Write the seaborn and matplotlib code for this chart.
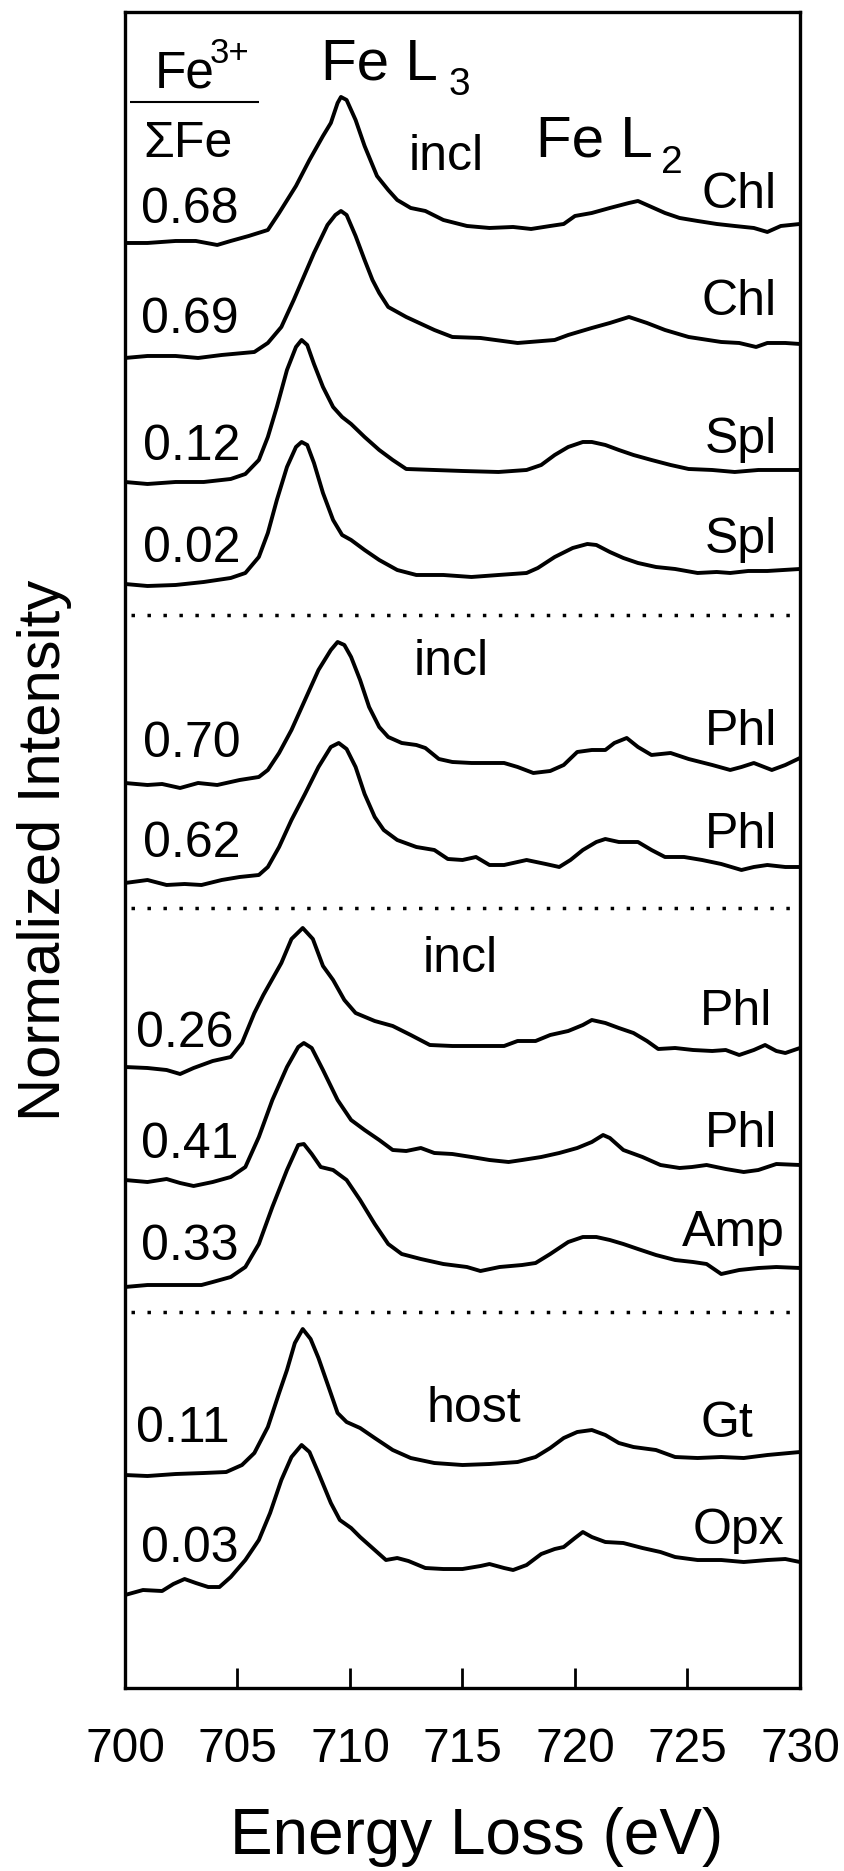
import numpy as np
import pandas as pd
import matplotlib
matplotlib.use('Agg')
import matplotlib.pyplot as plt
import seaborn as sns

# DATA ----------------------------------------------------------------------------
fe_ratio = ['0.68', '0.69', '0.12', '0.02', '0.70', '0.62', '0.26', '0.41', '0.33', '0.11', '0.03']
minerals = ['Chl', 'Chl', 'Spl', 'Spl', 'Phl', 'Phl', 'Phl', 'Phl', 'Amp', 'Gt', 'Opx']
# vertical offset of each spectrum (stacked plot, arbitrary units)
offsets = [14.45, 13.30, 12.06, 11.04, 9.05, 8.05, 6.21, 5.08, 4.01, 2.13, 0.93]
separators = [10.73, 7.80, 3.76]
group_labels = ['incl', 'incl', 'incl', 'host']
x_ticks = [700, 705, 710, 715, 720, 725, 730]

# Chl 0.68
e_chl1 = [700.0, 701.0, 702.25, 703.15, 704.1, 704.7, 705.5, 706.35, 706.85, 707.6, 708.2, 708.8,
          709.15, 709.45, 709.6, 709.85, 710.25, 710.65, 711.2, 711.7, 712.1, 712.7, 713.35, 714.15,
          715.2, 716.2, 717.25, 718.05, 718.9, 719.5, 720.0, 720.75, 721.55, 722.4, 722.8, 723.2,
          724.0, 724.65, 725.45, 726.3, 727.1, 727.95, 728.55, 729.15, 730.0]
i_chl1 = [0.00, 0.00, 0.02, 0.02, -0.02, 0.02, 0.07, 0.13, 0.30, 0.57, 0.83, 1.07,
          1.20, 1.40, 1.46, 1.43, 1.23, 0.97, 0.67, 0.53, 0.43, 0.35, 0.32, 0.23,
          0.17, 0.15, 0.16, 0.14, 0.17, 0.19, 0.27, 0.30, 0.35, 0.40, 0.42, 0.38,
          0.30, 0.25, 0.22, 0.19, 0.17, 0.15, 0.11, 0.17, 0.19]

# Chl 0.69
e_chl2 = [700.0, 701.0, 702.25, 703.25, 704.3, 705.75, 706.35, 706.95, 707.5, 708.4, 709.0, 709.35,
          709.6, 709.85, 710.25, 710.65, 711.0, 711.3, 711.7, 712.5, 713.75, 714.55, 715.8, 717.45,
          719.1, 719.7, 720.75, 721.55, 722.4, 723.2, 724.0, 725.05, 726.5, 727.3, 728.05, 728.55,
          729.35, 730.0]
i_chl2 = [0.00, 0.02, 0.02, 0.00, 0.03, 0.06, 0.15, 0.31, 0.58, 1.05, 1.33, 1.43,
          1.47, 1.43, 1.22, 0.98, 0.78, 0.65, 0.51, 0.41, 0.28, 0.21, 0.20, 0.15,
          0.18, 0.23, 0.30, 0.35, 0.41, 0.35, 0.28, 0.21, 0.16, 0.15, 0.11, 0.15,
          0.15, 0.14]

# Spl 0.12
e_spl1 = [700.0, 701.0, 702.25, 703.5, 704.7, 705.35, 705.95, 706.35, 706.75, 707.2, 707.6, 707.85,
          708.1, 708.4, 708.8, 709.25, 709.65, 710.05, 710.65, 711.3, 711.9, 712.5, 713.75, 715.0,
          716.6, 717.85, 718.5, 719.1, 719.7, 720.35, 720.75, 721.35, 721.95, 722.6, 723.4, 724.25,
          725.05, 726.1, 727.1, 728.15, 730.0]
i_spl1 = [0.00, -0.02, 0.00, 0.00, 0.03, 0.08, 0.22, 0.45, 0.75, 1.12, 1.35, 1.42,
          1.37, 1.18, 0.95, 0.75, 0.65, 0.58, 0.45, 0.32, 0.22, 0.13, 0.12, 0.11,
          0.10, 0.12, 0.17, 0.27, 0.35, 0.40, 0.40, 0.37, 0.32, 0.27, 0.22, 0.17,
          0.13, 0.12, 0.10, 0.12, 0.12]

# Spl 0.02
e_spl2 = [700.0, 701.0, 702.25, 703.5, 704.7, 705.35, 705.95, 706.35, 706.75, 707.2, 707.6, 707.85,
          708.1, 708.4, 708.8, 709.25, 709.65, 710.05, 710.65, 711.3, 712.1, 712.95, 714.15, 715.4,
          716.6, 717.85, 718.35, 719.1, 719.9, 720.55, 720.95, 721.55, 722.15, 722.8, 723.6, 724.45,
          725.45, 726.3, 726.9, 727.7, 728.55, 730.0]
i_spl2 = [0.00, -0.02, -0.01, 0.02, 0.06, 0.11, 0.27, 0.51, 0.84, 1.17, 1.37, 1.42,
          1.39, 1.21, 0.91, 0.64, 0.49, 0.44, 0.34, 0.24, 0.14, 0.09, 0.09, 0.07,
          0.09, 0.11, 0.16, 0.27, 0.36, 0.40, 0.39, 0.32, 0.26, 0.21, 0.17, 0.15,
          0.11, 0.12, 0.11, 0.13, 0.13, 0.15]

# Phl 0.70
e_phl1 = [700.0, 701.0, 701.65, 702.45, 703.25, 704.1, 705.1, 705.95, 706.35, 706.85, 707.4, 708.0,
          708.6, 709.15, 709.45, 709.75, 710.05, 710.45, 710.85, 711.3, 711.7, 712.3, 712.95, 713.35,
          713.95, 714.55, 715.4, 716.2, 716.85, 717.45, 718.15, 718.9, 719.5, 720.1, 720.75, 721.35,
          721.75, 722.3, 722.8, 723.4, 724.25, 725.05, 726.1, 726.9, 727.4, 727.95, 728.75, 729.35,
          730.0]
i_phl1 = [0.00, -0.02, -0.01, -0.05, 0.00, -0.02, 0.03, 0.06, 0.13, 0.30, 0.53, 0.83,
          1.13, 1.33, 1.41, 1.38, 1.26, 1.03, 0.76, 0.56, 0.46, 0.40, 0.38, 0.35,
          0.24, 0.21, 0.20, 0.20, 0.20, 0.16, 0.10, 0.12, 0.18, 0.31, 0.33, 0.33,
          0.40, 0.45, 0.36, 0.28, 0.30, 0.24, 0.18, 0.13, 0.16, 0.20, 0.13, 0.18,
          0.25]

# Phl 0.62
e_phl2 = [700.0, 701.0, 701.85, 702.65, 703.4, 704.3, 705.1, 705.95, 706.35, 706.85, 707.4, 708.0,
          708.6, 709.15, 709.5, 709.85, 710.25, 710.65, 711.1, 711.5, 712.1, 712.95, 713.75, 714.35,
          715.0, 715.6, 716.2, 716.85, 717.85, 718.7, 719.3, 719.8, 720.35, 720.95, 721.35, 721.95,
          722.8, 723.4, 724.0, 724.85, 725.65, 726.5, 727.4, 727.95, 728.55, 729.35, 730.0]
i_phl2 = [0.00, 0.03, -0.02, -0.01, -0.02, 0.03, 0.06, 0.08, 0.16, 0.36, 0.63, 0.89,
          1.16, 1.36, 1.40, 1.34, 1.16, 0.89, 0.66, 0.53, 0.43, 0.36, 0.33, 0.24,
          0.23, 0.26, 0.18, 0.18, 0.23, 0.19, 0.16, 0.23, 0.33, 0.41, 0.44, 0.41,
          0.41, 0.33, 0.26, 0.26, 0.23, 0.19, 0.13, 0.16, 0.18, 0.16, 0.16]

# Phl 0.26
e_phl3 = [700.0, 701.0, 701.85, 702.45, 703.05, 703.9, 704.7, 705.2, 705.75, 706.15, 706.95, 707.4,
          707.9, 708.35, 708.8, 709.25, 709.75, 710.25, 711.1, 711.9, 712.7, 713.55, 714.55, 715.8,
          716.85, 717.45, 718.25, 718.9, 719.7, 720.35, 720.75, 721.35, 721.95, 722.6, 723.2, 723.7,
          724.45, 725.25, 726.1, 726.7, 727.3, 727.95, 728.45, 728.95, 729.35, 730.0]
i_phl3 = [0.00, -0.01, -0.03, -0.07, -0.01, 0.06, 0.10, 0.24, 0.54, 0.72, 1.04, 1.28,
          1.39, 1.28, 1.01, 0.87, 0.67, 0.54, 0.46, 0.41, 0.32, 0.22, 0.21, 0.21,
          0.21, 0.26, 0.26, 0.32, 0.36, 0.42, 0.47, 0.44, 0.39, 0.34, 0.26, 0.18,
          0.19, 0.17, 0.16, 0.17, 0.12, 0.17, 0.22, 0.16, 0.14, 0.19]

# Phl 0.41
e_phl4 = [700.0, 701.0, 701.85, 702.45, 703.05, 703.9, 704.7, 705.35, 705.95, 706.55, 707.2, 707.7,
          707.95, 708.3, 708.8, 709.45, 710.05, 710.65, 711.3, 711.9, 712.5, 713.15, 713.75, 714.55,
          715.4, 716.2, 717.05, 717.65, 718.5, 719.3, 720.1, 720.75, 721.25, 721.55, 722.15, 723.0,
          723.8, 724.65, 725.2, 725.85, 726.7, 727.5, 728.15, 728.95, 730.0]
i_phl4 = [0.00, -0.02, 0.01, -0.03, -0.06, -0.02, 0.03, 0.13, 0.43, 0.80, 1.13, 1.33,
          1.37, 1.32, 1.10, 0.80, 0.60, 0.50, 0.40, 0.30, 0.29, 0.32, 0.27, 0.26,
          0.23, 0.20, 0.18, 0.20, 0.23, 0.27, 0.32, 0.38, 0.45, 0.42, 0.30, 0.23,
          0.15, 0.12, 0.13, 0.15, 0.11, 0.08, 0.10, 0.16, 0.15]

# Amp 0.33
e_amp = [700.0, 701.0, 702.25, 703.4, 703.9, 704.7, 705.35, 705.95, 706.55, 707.2, 707.7, 707.95,
         708.3, 708.7, 709.25, 709.85, 710.45, 711.1, 711.7, 712.3, 713.15, 714.15, 715.2, 715.8,
         716.65, 717.65, 718.25, 718.9, 719.7, 720.35, 720.95, 721.55, 722.15, 722.8, 723.6, 724.45,
         725.25, 725.85, 726.5, 727.3, 728.15, 728.95, 730.0]
i_amp = [0.00, 0.02, 0.02, 0.02, 0.05, 0.10, 0.20, 0.43, 0.80, 1.17, 1.42, 1.43,
         1.33, 1.20, 1.17, 1.07, 0.87, 0.63, 0.43, 0.33, 0.28, 0.23, 0.20, 0.16,
         0.20, 0.22, 0.24, 0.33, 0.45, 0.50, 0.50, 0.47, 0.43, 0.38, 0.32, 0.27,
         0.25, 0.23, 0.13, 0.17, 0.19, 0.20, 0.19]

# Gt 0.11
e_gt = [700.0, 701.0, 702.25, 703.5, 704.5, 705.2, 705.75, 706.35, 706.85, 707.2, 707.55, 707.9,
        708.25, 708.6, 709.05, 709.45, 709.85, 710.45, 711.1, 711.9, 712.7, 713.75, 715.0, 716.2,
        717.45, 718.25, 718.9, 719.5, 720.1, 720.75, 721.35, 721.95, 722.6, 723.6, 724.45, 725.45,
        726.5, 727.5, 728.55, 730.0]
i_gt = [0.00, -0.01, 0.01, 0.02, 0.03, 0.10, 0.22, 0.48, 0.82, 1.05, 1.32, 1.46,
        1.36, 1.17, 0.88, 0.62, 0.53, 0.47, 0.37, 0.25, 0.17, 0.12, 0.10, 0.11,
        0.13, 0.18, 0.27, 0.37, 0.43, 0.45, 0.40, 0.32, 0.28, 0.25, 0.18, 0.17,
        0.18, 0.17, 0.20, 0.23]

# Opx 0.03
e_opx = [700.0, 700.8, 701.65, 702.15, 702.65, 703.15, 703.7, 704.2, 704.7, 705.35, 705.95, 706.45,
         706.95, 707.4, 707.85, 708.2, 708.6, 709.15, 709.55, 710.05, 710.45, 711.1, 711.6, 712.1,
         712.6, 713.35, 714.15, 715.0, 715.8, 716.2, 716.85, 717.25, 717.85, 718.5, 719.1, 719.5,
         720.0, 720.35, 720.75, 721.35, 722.15, 723.0, 723.8, 724.45, 725.45, 726.5, 727.5, 728.55,
         729.35, 730.0]
i_opx = [0.00, 0.05, 0.04, 0.11, 0.16, 0.12, 0.08, 0.08, 0.18, 0.35, 0.55, 0.82,
         1.15, 1.38, 1.50, 1.43, 1.22, 0.92, 0.75, 0.67, 0.58, 0.45, 0.35, 0.37,
         0.34, 0.27, 0.26, 0.26, 0.29, 0.31, 0.27, 0.25, 0.30, 0.41, 0.46, 0.48,
         0.57, 0.63, 0.58, 0.53, 0.52, 0.47, 0.43, 0.38, 0.35, 0.35, 0.33, 0.35,
         0.36, 0.33]

spectra = [(e_chl1, i_chl1), (e_chl2, i_chl2), (e_spl1, i_spl1), (e_spl2, i_spl2),
           (e_phl1, i_phl1), (e_phl2, i_phl2), (e_phl3, i_phl3), (e_phl4, i_phl4),
           (e_amp, i_amp), (e_gt, i_gt), (e_opx, i_opx)]
# END DATA -----------------------------------------------------------------------


# long-form table for seaborn
frames = []
for k, (e, i) in enumerate(spectra):
    frames.append(pd.DataFrame({'energy': e,
                                'intensity': np.array(i) + offsets[k],
                                'spectrum': k}))
df = pd.concat(frames, ignore_index=True)

# STYLE --------------------------------------------------------------------------
sns.set_style('white')
plt.rcParams['font.family'] = ['Liberation Sans', 'DejaVu Sans']
plt.rcParams['text.color'] = 'black'
plt.rcParams['axes.labelcolor'] = 'black'

fig = plt.figure(figsize=(8.45, 18.71), dpi=100)
ax = fig.add_axes([0.1479, 0.0978, 0.7988, 0.8958])

sns.lineplot(data=df, x='energy', y='intensity', units='spectrum', estimator=None,
             sort=False, color='black', linewidth=2.8, legend=False, ax=ax)

# dotted separators between the groups
for y in separators:
    ax.plot([700.25, 729.6], [y, y], color='black', lw=2.5, ls=(0, (1, 3.6)))

# left: Fe3+/sumFe, right: mineral names
ratio_pos = [(700.71, 14.65), (700.71, 13.55), (700.80, 12.28), (700.80, 11.26),
             (700.80, 9.31), (700.80, 8.31), (700.49, 6.41), (700.71, 5.30),
             (700.71, 4.28), (700.49, 2.46), (700.71, 1.26)]
mineral_pos = [(725.64, 14.80), (725.64, 13.73), (725.78, 12.35), (725.78, 11.35),
               (725.78, 9.43), (725.78, 8.40), (725.56, 6.63), (725.78, 5.41),
               (724.76, 4.42), (725.56, 2.51), (725.24, 1.44)]
group_pos = [(712.62, 15.18), (712.84, 10.13), (713.24, 7.16), (713.42, 2.66)]

kw = dict(fontsize=36, ha='left', va='baseline', color='black')
for lab, (x, y) in zip(fe_ratio, ratio_pos):
    ax.text(x, y, lab, **kw)
for lab, (x, y) in zip(minerals, mineral_pos):
    ax.text(x, y, lab, **kw)
for lab, (x, y) in zip(group_labels, group_pos):
    ax.text(x, y, lab, **kw)

# header: Fe3+ / SumFe and edge names
ax.text(701.33, 16.00, 'Fe', fontsize=37, ha='left', va='baseline')
ax.text(703.78, 16.25, '3+', fontsize=25, ha='left', va='baseline')
ax.plot([700.22, 705.96], [15.86, 15.86], color='black', lw=1.5, solid_capstyle='butt')
ax.text(700.80, 15.31, '\u03a3Fe', fontsize=36, ha='left', va='baseline')

ax.text(708.71, 16.08, 'Fe L', fontsize=42, ha='left', va='baseline')
ax.text(714.36, 15.93, '3', fontsize=28, ha='left', va='baseline')
ax.text(718.27, 15.31, 'Fe L', fontsize=42, ha='left', va='baseline')
ax.text(723.82, 15.15, '2', fontsize=28, ha='left', va='baseline')

# AXES ---------------------------------------------------------------------------
ax.set_xlim(700, 730)
ax.set_ylim(0, 16.76)
ax.set_yticks([])
ax.set_xticks(x_ticks)
ax.set_xticklabels([str(t) for t in x_ticks])
ax.tick_params(axis='x', direction='in', length=14.4, width=2.0, pad=28,
               labelsize=34.5, colors='black', bottom=True, top=False)
for s in ax.spines.values():
    s.set_linewidth(2.4)
    s.set_color('black')

ax.set_xlabel('Energy Loss (eV)', fontsize=46)
ax.xaxis.set_label_coords(0.5215, -0.071)
ax.set_ylabel('Normalized Intensity', fontsize=43)
ax.yaxis.set_label_coords(-0.0785, 0.5)

fig.savefig('out.png', dpi=100)
